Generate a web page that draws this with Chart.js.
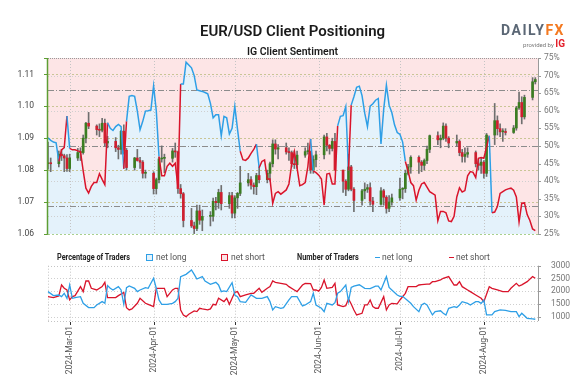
<!DOCTYPE html>
<html><head><meta charset="utf-8">
<script src="https://cdn.jsdelivr.net/npm/chart.js@4.4.1/dist/chart.umd.min.js"></script>
<style>
html,body{margin:0;padding:0;background:#fff;}
#wrap{position:relative;width:585px;height:378px;overflow:hidden;font-family:Roboto,"Open Sans",sans-serif;}
canvas{position:absolute;left:0;}
#c1{top:0;}
#c2{top:245px;}
.t{position:absolute;white-space:nowrap;}
.lg{position:absolute;white-space:nowrap;font-size:8.5px;line-height:10px;top:252px;color:#555;transform-origin:0 50%;}
.lgb{font-weight:700;color:#222;transform:scaleX(0.86);}
.sq{position:absolute;top:254px;width:5px;height:5px;}
.ln{position:absolute;top:256.5px;width:5px;height:1.5px;}
</style></head><body>
<div id="wrap">
<canvas id="c1" width="585" height="245"></canvas>
<canvas id="c2" width="585" height="133"></canvas>
<div class="t" style="left:0;width:585px;top:22px;text-align:center;font-size:15px;line-height:18px;font-weight:600;color:#1a1a1a;">EUR/USD Client Positioning</div>
<div class="t" style="left:0;width:585px;top:45px;text-align:center;font-size:10.5px;line-height:13px;font-weight:600;color:#1a1a1a;">IG Client Sentiment</div>
<div class="t" style="right:20px;top:22px;text-align:right;font-size:14px;line-height:16px;font-weight:700;letter-spacing:1.5px;color:#5b6775;">DAILY<span style="color:#f47920;">FX</span></div>
<div class="t" style="right:20px;top:38px;text-align:right;font-size:6px;line-height:11px;color:#777;">provided by <span style="font-size:10px;font-weight:700;color:#e4202b;letter-spacing:0;">IG</span></div>
<div class="lg lgb" style="left:57px;">Percentage of Traders</div>
<div class="sq" style="left:146px;border:1px solid #2e9fe6;background:#e3f2fb;"></div>
<div class="lg" style="left:156px;">net long</div>
<div class="sq" style="left:221px;border:1px solid #d9142b;background:#fbe3e5;"></div>
<div class="lg" style="left:231px;">net short</div>
<div class="lg lgb" style="left:297px;">Number of Traders</div>
<div class="ln" style="left:375px;background:#2e9fe6;"></div>
<div class="lg" style="left:382px;">net long</div>
<div class="ln" style="left:449px;background:#d9142b;"></div>
<div class="lg" style="left:456px;">net short</div>
</div>
<script>
// ---------------- DATA ----------------
const MONTHS=['Jan','Feb','Mar','Apr','May','Jun','Jul','Aug','Sep','Oct','Nov','Dec'];
const firstDay=[2024,1,22];   // 2024-Feb-22
const dayCount=182;           // axis runs to 2024-Aug-21
const lastCandleDay=180;      // 2024-Aug-20

// tick labels
const priceTicks=[1.06,1.07,1.08,1.09,1.10,1.11];
const pctTicks=[25,30,35,40,45,50,55,60,65,70,75];
const countTicks=[1000,1500,2000,2500,3000];

// EUR/USD daily candles (each weekday from 2024-Feb-22 to 2024-Aug-20)
const opens=[1.0820,1.0823,1.0820,1.0850,1.0845,1.0838,1.0805,1.0838,1.0855,1.0855,1.0900,1.0947,1.0938,1.0927,1.0925,1.0947,1.0885,1.0890,1.0870,1.0865,1.0922,1.0862,1.0808,1.0838,1.0830,1.0825,1.0790,1.0790,1.0742,1.0770,1.0835,1.0837,1.0837,1.0860,1.0857,1.0742,1.0726,1.0642,1.0625,1.0617,1.0672,1.0643,1.0655,1.0655,1.0702,1.0698,1.0730,1.0695,1.0720,1.0665,1.0713,1.0727,1.0760,1.0770,1.0753,1.0748,1.0783,1.0770,1.0790,1.0820,1.0882,1.0866,1.0870,1.0857,1.0855,1.0820,1.0817,1.0847,1.0858,1.0858,1.0800,1.0833,1.0848,1.0904,1.0878,1.0868,1.0890,1.0800,1.0765,1.0740,1.0810,1.0740,1.0705,1.0735,1.0740,1.0745,1.0703,1.0693,1.0735,1.0715,1.0680,1.0700,1.0713,1.0740,1.0742,1.0790,1.0810,1.0840,1.0825,1.0815,1.0830,1.0865,1.0908,1.0895,1.0900,1.0938,1.0900,1.0885,1.0890,1.0855,1.0843,1.0850,1.0855,1.0820,1.0815,1.0825,1.0790,1.0910,1.0955,1.0930,1.0920,1.0920,1.0918,1.0932,1.0995,1.1012,1.0967,1.1028,1.1077];
const highs=[1.0888,1.0838,1.0860,1.0865,1.0850,1.0849,1.0850,1.0868,1.0870,1.0910,1.0950,1.0981,1.0942,1.0945,1.0962,1.0960,1.0906,1.0902,1.0878,1.0925,1.0942,1.0868,1.0840,1.0865,1.0840,1.0830,1.0800,1.0795,1.0775,1.0840,1.0876,1.0850,1.0868,1.0885,1.0860,1.0755,1.0730,1.0680,1.0637,1.0690,1.0690,1.0675,1.0670,1.0712,1.0715,1.0740,1.0752,1.0730,1.0730,1.0720,1.0730,1.0812,1.0790,1.0780,1.0760,1.0790,1.0810,1.0800,1.0825,1.0895,1.0895,1.0880,1.0885,1.0870,1.0860,1.0860,1.0860,1.0870,1.0885,1.0860,1.0845,1.0860,1.0910,1.0915,1.0880,1.0900,1.0915,1.0800,1.0770,1.0850,1.0815,1.0745,1.0740,1.0760,1.0755,1.0760,1.0715,1.0745,1.0740,1.0720,1.0720,1.0725,1.0775,1.0745,1.0800,1.0818,1.0845,1.0845,1.0830,1.0835,1.0875,1.0910,1.0920,1.0910,1.0948,1.0945,1.0905,1.0910,1.0895,1.0865,1.0870,1.0870,1.0860,1.0835,1.0840,1.0830,1.0915,1.1009,1.0970,1.0945,1.0930,1.0930,1.0940,1.1000,1.1045,1.1030,1.1035,1.1090,1.1090];
const lows=[1.0803,1.0795,1.0810,1.0830,1.0795,1.0796,1.0795,1.0830,1.0830,1.0850,1.0885,1.0930,1.0910,1.0905,1.0920,1.0875,1.0870,1.0858,1.0835,1.0850,1.0850,1.0800,1.0800,1.0828,1.0805,1.0775,1.0775,1.0725,1.0725,1.0760,1.0825,1.0792,1.0825,1.0840,1.0727,1.0712,1.0622,1.0620,1.0601,1.0610,1.0630,1.0610,1.0625,1.0640,1.0675,1.0680,1.0675,1.0680,1.0650,1.0650,1.0680,1.0720,1.0750,1.0740,1.0725,1.0723,1.0760,1.0760,1.0765,1.0810,1.0850,1.0835,1.0850,1.0830,1.0810,1.0805,1.0805,1.0840,1.0850,1.0790,1.0790,1.0810,1.0835,1.0860,1.0850,1.0860,1.0800,1.0730,1.0720,1.0735,1.0735,1.0670,1.0690,1.0710,1.0730,1.0690,1.0670,1.0690,1.0690,1.0665,1.0670,1.0690,1.0705,1.0710,1.0730,1.0785,1.0790,1.0790,1.0795,1.0800,1.0820,1.0855,1.0880,1.0870,1.0895,1.0890,1.0870,1.0875,1.0845,1.0825,1.0825,1.0840,1.0810,1.0800,1.0790,1.0775,1.0780,1.0880,1.0910,1.0905,1.0890,1.0910,1.0915,1.0925,1.0990,1.0945,1.0960,1.1020,1.1070];
const closes=[1.0823,1.0820,1.0850,1.0845,1.0838,1.0805,1.0838,1.0855,1.0855,1.0900,1.0947,1.0938,1.0927,1.0925,1.0947,1.0885,1.0890,1.0870,1.0865,1.0922,1.0862,1.0808,1.0838,1.0830,1.0825,1.0790,1.0790,1.0742,1.0770,1.0835,1.0837,1.0837,1.0860,1.0857,1.0742,1.0726,1.0642,1.0625,1.0617,1.0672,1.0643,1.0655,1.0655,1.0702,1.0698,1.0730,1.0695,1.0720,1.0665,1.0713,1.0727,1.0760,1.0770,1.0753,1.0748,1.0783,1.0770,1.0790,1.0820,1.0882,1.0866,1.0870,1.0857,1.0855,1.0820,1.0817,1.0847,1.0858,1.0858,1.0800,1.0833,1.0848,1.0904,1.0878,1.0868,1.0890,1.0800,1.0765,1.0740,1.0810,1.0740,1.0705,1.0735,1.0740,1.0745,1.0703,1.0693,1.0735,1.0715,1.0680,1.0700,1.0713,1.0740,1.0742,1.0790,1.0810,1.0840,1.0825,1.0815,1.0830,1.0865,1.0908,1.0895,1.0900,1.0938,1.0900,1.0885,1.0890,1.0855,1.0843,1.0850,1.0855,1.0820,1.0815,1.0825,1.0790,1.0910,1.0955,1.0930,1.0920,1.0920,1.0918,1.0932,1.0995,1.1012,1.0967,1.1028,1.1077,1.1084];

// IG client sentiment: % of traders net long, one value per calendar day from 2024-Feb-22
const netLongPct=[52.3,51.6,51.1,50.9,45.6,48.9,49.5,58.5,49.3,48.9,48.9,48.6,48.4,42.9,38.0,36.6,38.5,39.6,39.6,42.1,40.5,39.0,56.6,55.0,54.4,55.5,56.1,55.5,43.5,57.0,64.1,64.3,64.1,59.9,54.6,57.0,59.9,60.0,60.2,67.1,60.0,47.0,41.5,41.5,44.2,45.1,44.2,45.1,38.3,67.6,67.6,73.8,73.0,72.2,70.0,65.9,65.7,65.5,65.2,64.8,62.1,58.0,58.9,58.9,52.9,58.4,58.0,53.4,55.0,61.3,54.8,48.5,46.1,45.9,46.6,47.9,49.0,50.5,43.8,45.6,46.0,40.6,40.6,33.7,36.5,37.0,36.3,36.9,37.5,39.2,44.7,48.4,43.8,38.7,39.0,39.6,44.2,52.0,42.9,42.4,41.7,40.6,33.2,42.0,42.2,39.2,39.2,55.7,58.4,58.6,61.2,43.0,61.6,64.0,66.7,67.0,64.3,59.3,55.5,61.3,62.0,63.0,63.5,50.6,60.4,67.3,61.6,59.5,56.0,53.8,53.3,51.1,45.6,42.9,39.6,38.7,34.6,37.4,39.2,39.6,38.3,37.0,36.5,36.0,28.7,31.4,31.4,31.0,28.7,28.5,30.0,35.5,38.1,36.9,37.3,41.5,42.7,42.5,41.0,46.5,46.7,46.5,49.7,52.9,31.0,31.2,32.8,36.5,37.0,37.5,37.8,38.0,37.4,35.5,28.4,33.7,33.8,30.5,28.8,26.4,25.9];
const sentimentLevels=[66,50,33];

// Number of traders (day offset from 2024-Feb-22, count)
const longDays=[0,2,4,5,6,7,8,9,10,12,13,15,17,18,20,21,22,23,24,26,27,28,29,30,32,33,34,36,37,39,40,41,42,44,46,47,48,49,51,53,54,55,57,58,60,62,63,64,65,66,68,69,70,71,73,75,77,79,81,82,83,84,86,87,89,90,92,94,95,97,98,99,101,102,103,105,106,107,108,110,111,112,113,115,117,119,121,122,123,125,126,127,129,130,131,134,135,137,138,139,140,142,143,145,146,147,148,150,151,152,153,155,156,158,159,160,161,162,164,165,167,169,171,172,173,174,175,177,179,180];
const longCounts=[1983,1825,1851,1786,1917,1721,2244,1721,1747,1786,1525,1355,1355,1459,1590,1525,2218,2114,2048,2179,2048,1485,2140,2205,2114,1983,2048,2140,2114,2505,2114,1656,1485,1485,1525,1590,1721,2570,2661,2831,2661,2478,2570,2400,2270,2348,2244,1983,2009,1983,2335,1851,1786,1590,1564,1851,1721,1721,1786,1590,1264,1394,1330,1355,1656,1785,1785,1420,1459,1590,1918,1459,1330,1197,1526,1459,1550,1918,1983,2243,1600,2150,2200,2250,2114,2100,2200,2200,2050,2569,2150,2050,1850,1800,1800,1524,1394,1197,1459,1524,1460,1067,1197,1230,1133,1067,1330,1394,1360,1459,1590,1524,1459,1590,1590,1524,1655,1067,1067,1197,1264,1250,1197,1197,1197,1002,1133,937,911,898];
const shortDays=[0,2,4,5,6,7,8,9,10,12,13,14,15,16,18,20,21,22,23,25,26,28,29,30,31,33,34,36,37,39,40,42,43,44,46,47,48,49,50,51,52,54,55,56,57,59,60,61,62,63,65,66,67,68,69,70,71,73,75,76,78,79,81,82,83,84,86,88,89,91,92,94,95,97,98,99,100,101,102,103,105,106,107,109,110,111,112,113,114,116,117,118,119,120,121,122,124,125,126,127,129,130,132,133,135,136,137,138,140,141,142,143,145,146,148,150,151,152,153,155,156,158,160,161,163,164,166,168,170,171,173,174,175,177,179,180];
const shortCounts=[1786,1747,1812,2244,2114,2048,1656,1786,1825,2179,1983,2400,2400,2114,2048,2179,2348,1747,1747,1747,1825,1950,1355,1264,1304,1525,1721,1525,1485,1394,2114,2114,2114,1786,2048,2114,2114,1264,1068,1000,1095,1225,1198,1330,1304,1264,1304,1485,1459,1721,1590,1721,1485,1721,1957,1983,1786,1851,1917,1917,2114,1957,2114,2179,2400,2348,2309,2270,2177,2047,1982,2243,2308,2300,2047,2047,2000,2150,2440,2113,2150,2308,1460,1394,1430,1700,1500,1264,1068,1134,1459,1459,1655,1394,1330,1330,1787,1264,1459,1524,1500,1655,1917,2177,2177,2177,2243,2260,2280,2280,2374,2374,2440,2505,2571,2243,2243,2374,2177,2047,1983,1851,1721,1590,2177,2113,2047,1983,1983,2113,2308,2200,2250,2374,2571,2505];

// ---------------- BUILD ----------------
const FONT='Roboto, "Open Sans", sans-serif';
const BLUE='#2e9fe6', RED='#d9142b', GREEN_C='#3b7d22', RED_C='#cf1f2f';
const dayLabels=[], candleDates=[];
const t0=Date.UTC(firstDay[0],firstDay[1],firstDay[2]);
for(let i=0;i<dayCount;i++){
  const d=new Date(t0+i*86400000);
  const s=d.getUTCFullYear()+'-'+MONTHS[d.getUTCMonth()]+'-'+String(d.getUTCDate()).padStart(2,'0');
  dayLabels.push(s);
  const wd=d.getUTCDay();
  if(wd!==0&&wd!==6&&i<=lastCandleDay) candleDates.push(s);
}
const nC=Math.min(candleDates.length,opens.length);
const wickData=[],bodyData=[],bodyColors=[];
for(let i=0;i<nC;i++){
  wickData.push({x:candleDates[i],y:[lows[i],highs[i]]});
  bodyData.push({x:candleDates[i],y:[opens[i],closes[i]]});
  bodyColors.push(closes[i]>=opens[i]?GREEN_C:RED_C);
}
const pctPoints=netLongPct.map((v,i)=>({x:dayLabels[i],y:v}));
const longPoints=longDays.map((d,i)=>({x:dayLabels[d],y:longCounts[i]}));
const shortPoints=shortDays.map((d,i)=>({x:dayLabels[d],y:shortCounts[i]}));
const monthIdx=dayLabels.map((l,i)=>l.endsWith('-01')?i:-1).filter(i=>i>=0);
const setTicks=arr=>(s=>{s.ticks=arr.map(v=>({value:v}));});

function hline(ctx,x1,x2,y,color,dash,w){ctx.save();ctx.beginPath();ctx.setLineDash(dash);ctx.strokeStyle=color;ctx.lineWidth=w||1;ctx.moveTo(x1,Math.round(y)+0.5);ctx.lineTo(x2,Math.round(y)+0.5);ctx.stroke();ctx.restore();}
function vline(ctx,x,y1,y2,color,dash,w){ctx.save();ctx.beginPath();ctx.setLineDash(dash);ctx.strokeStyle=color;ctx.lineWidth=w||1;ctx.moveTo(Math.round(x)+0.5,y1);ctx.lineTo(Math.round(x)+0.5,y2);ctx.stroke();ctx.restore();}

const topPlugin={
  id:'topDeco',
  beforeDatasetsDraw(chart){
    const a=chart.chartArea,ctx=chart.ctx;
    ctx.save();ctx.fillStyle='#fde5e6';ctx.fillRect(a.left,a.top,a.right-a.left,a.bottom-a.top);ctx.restore();
  },
  afterDatasetDraw(chart,args){
    if(args.index!==0)return;
    const a=chart.chartArea,ctx=chart.ctx,sp=chart.scales.price,sq=chart.scales.pct,sx=chart.scales.x;
    pctTicks.forEach(v=>{ if(v%10===0 && v!==50 && v>25 && v<75) hline(ctx,a.left,a.right,sq.getPixelForValue(v),'#cfcfcf',[1,2]); });
    priceTicks.forEach(v=>{ if(v>1.0605) hline(ctx,a.left,a.right,sp.getPixelForValue(v),'#c9c596',[2,2]); });
    monthIdx.forEach(i=>vline(ctx,sx.getPixelForValue(i),a.top,a.bottom,'#c4c4c4',[1,2]));
    sentimentLevels.forEach(v=>hline(ctx,a.left,a.right,sq.getPixelForValue(v),'#8c8c8c',[6,2,1,2]));
    hline(ctx,a.left,a.right,a.top,'#9a9a9a',[1,1]);
  },
  afterDraw(chart){
    const a=chart.chartArea,ctx=chart.ctx,sp=chart.scales.price,sq=chart.scales.pct;
    hline(ctx,a.left,a.right,a.bottom,'#a9d08e',[2,2]);
    vline(ctx,a.left-1,a.top,a.bottom+1,'#5d9e33',[],1.5);
    priceTicks.forEach(v=>hline(ctx,a.left-4,a.left-1,sp.getPixelForValue(v),'#5d9e33',[]));
    hline(ctx,a.left-4,a.left-1,a.top,'#5d9e33',[]);
    vline(ctx,a.right,a.top,a.bottom,'#9a9a9a',[]);
    ctx.save();
    ctx.font='8.5px '+FONT;ctx.fillStyle='#777';ctx.textAlign='left';ctx.textBaseline='middle';
    pctTicks.forEach(v=>{
      const y=sq.getPixelForValue(v);
      hline(ctx,a.right,a.right+3,y,'#9a9a9a',[]);
      ctx.fillText(v+'%',a.right+6,y);
    });
    ctx.restore();
  }
};

new Chart(document.getElementById('c1'),{
  data:{labels:dayLabels,datasets:[
    {type:'line',data:pctPoints,yAxisID:'pct',borderWidth:0,pointRadius:0,fill:'start',backgroundColor:'#e4f2fb',order:10},
    {type:'bar',data:wickData,yAxisID:'price',barThickness:1,backgroundColor:'#6f6f6f',grouped:false,order:5},
    {type:'bar',data:bodyData,yAxisID:'price',barThickness:2,minBarLength:1,backgroundColor:bodyColors,grouped:false,order:4},
    {type:'line',data:pctPoints,yAxisID:'pct',borderWidth:1.5,pointRadius:0,fill:false,borderColor:BLUE,order:1,
      segment:{borderColor:c=>c.p0.parsed.y>=50?BLUE:RED}}
  ]},
  options:{responsive:false,animation:false,events:[],
    layout:{padding:{top:58,bottom:5,left:0,right:0}},
    plugins:{legend:{display:false},tooltip:{enabled:false}},
    scales:{
      x:{type:'category',offset:false,display:false},
      price:{type:'linear',position:'left',min:1.06,max:1.11515,grid:{display:false},border:{display:false},
        afterBuildTicks:setTicks(priceTicks),
        ticks:{autoSkip:false,callback:v=>v.toFixed(2),font:{size:8.5,family:FONT},color:'#444',padding:6},
        afterFit:s=>{s.width=48;}},
      pct:{type:'linear',position:'right',min:25,max:75,grid:{display:false},border:{display:false},
        afterBuildTicks:setTicks(pctTicks),
        ticks:{display:false},
        afterFit:s=>{s.width=47;}}
    }},
  plugins:[topPlugin]
});

const botPlugin={
  id:'botDeco',
  beforeDatasetsDraw(chart){
    const a=chart.chartArea,ctx=chart.ctx,sc=chart.scales.cnt,sx=chart.scales.x;
    countTicks.forEach(v=>hline(ctx,a.left,a.right,sc.getPixelForValue(v),'#cfcfcf',[1,2]));
    hline(ctx,a.left,a.right,a.top,'#c4c4c4',[1,2]);
    hline(ctx,a.left,a.right,a.bottom,'#c4c4c4',[1,2]);
    vline(ctx,a.left,a.top,a.bottom,'#c4c4c4',[1,2]);
    monthIdx.forEach(i=>vline(ctx,sx.getPixelForValue(i),a.top,a.bottom,'#c4c4c4',[1,2]));
  },
  afterDraw(chart){
    const a=chart.chartArea,ctx=chart.ctx,sc=chart.scales.cnt,sx=chart.scales.x;
    vline(ctx,a.right,a.top,a.bottom,'#9a9a9a',[]);
    countTicks.forEach(v=>hline(ctx,a.right,a.right+3,sc.getPixelForValue(v),'#9a9a9a',[]));
    monthIdx.forEach(i=>vline(ctx,sx.getPixelForValue(i),a.bottom+1,a.bottom+4,'#333',[]));
  }
};

new Chart(document.getElementById('c2'),{
  type:'line',
  data:{labels:dayLabels,datasets:[
    {data:longPoints,yAxisID:'cnt',borderColor:BLUE,borderWidth:1.3,pointRadius:0,fill:false},
    {data:shortPoints,yAxisID:'cnt',borderColor:RED,borderWidth:1.3,pointRadius:0,fill:false}
  ]},
  options:{responsive:false,animation:false,events:[],
    layout:{padding:{top:20.7,left:48,right:0,bottom:0}},
    plugins:{legend:{display:false},tooltip:{enabled:false}},
    scales:{
      x:{type:'category',offset:false,grid:{display:false,drawTicks:false},border:{display:false},
        ticks:{autoSkip:false,maxRotation:90,minRotation:90,padding:5,font:{size:8.5,family:FONT},color:'#555',
          callback:(v,i)=>dayLabels[i].endsWith('-01')?dayLabels[i]:null},
        afterFit:s=>{s.height=57;}},
      cnt:{type:'linear',position:'right',min:830,max:3000,grid:{display:false},border:{display:false},
        afterBuildTicks:setTicks(countTicks),
        ticks:{autoSkip:false,callback:v=>String(v),font:{size:8.5,family:FONT},color:'#777',padding:5},
        afterFit:s=>{s.width=47;}}
    }},
  plugins:[botPlugin]
});
</script>
</body></html>
